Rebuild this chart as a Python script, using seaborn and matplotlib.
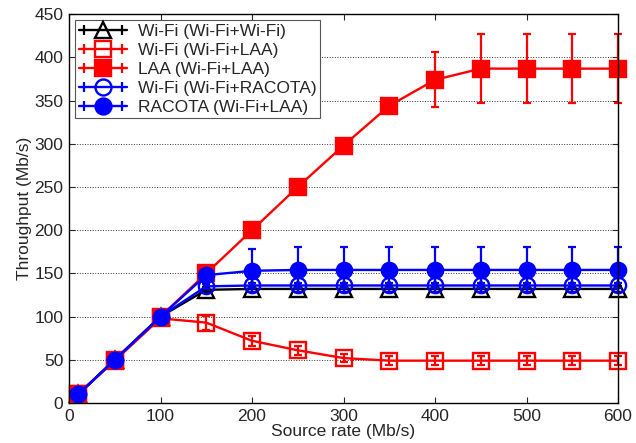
import numpy as np
import pandas as pd
import seaborn as sns
import matplotlib

matplotlib.use('Agg')
import matplotlib.pyplot as plt
from matplotlib.lines import Line2D
from matplotlib.legend_handler import HandlerLine2D

rate = [10, 50, 100, 150, 200, 250, 300, 350, 400, 450, 500, 550, 600]

wifi_wifi = [10, 50, 100, 131, 132, 132, 132, 132, 132, 132, 132, 132, 132]
wifi_wifi_err = [2, 2, 2, 3, 3, 3, 3, 3, 3, 3, 3, 3, 3]

wifi_laa = [10, 49, 98, 93, 72, 61, 52, 49, 49, 49, 49, 49, 49]
wifi_laa_err = [2, 2, 3, 8, 6, 5, 5, 5, 5, 5, 5, 5, 5]

laa = [10, 50, 100, 150, 200, 250, 298, 344, 374, 387, 387, 387, 387]
laa_err = [2, 2, 2, 2, 2, 2, 2, 5, 32, 40, 40, 40, 40]

wifi_racota = [10, 50, 100, 135, 136, 136, 136, 136, 136, 136, 136, 136, 136]
wifi_racota_err = [2, 2, 2, 3, 3, 3, 3, 3, 3, 3, 3, 3, 3]

racota = [10, 50, 100, 148, 153, 154, 154, 154, 154, 154, 154, 154, 154]
racota_err = [0, 0, 0, 0, 25, 26, 26, 26, 26, 26, 26, 26, 26]

series = [
    ("Wi-Fi (Wi-Fi+Wi-Fi)", wifi_wifi, wifi_wifi_err, "black", "^", "none"),
    ("Wi-Fi (Wi-Fi+LAA)", wifi_laa, wifi_laa_err, "red", "s", "none"),
    ("LAA (Wi-Fi+LAA)", laa, laa_err, "red", "s", "red"),
    ("Wi-Fi (Wi-Fi+RACOTA)", wifi_racota, wifi_racota_err, "blue", "o", "none"),
    ("RACOTA (Wi-Fi+LAA)", racota, racota_err, "blue", "o", "blue"),
]

sns.set_style("ticks")
plt.rcParams['font.family'] = ['Liberation Sans', 'DejaVu Sans']
plt.rcParams['xtick.direction'] = 'in'
plt.rcParams['ytick.direction'] = 'in'

fig, ax = plt.subplots(figsize=(6.36, 4.43), dpi=100)
fig.subplots_adjust(left=0.1085, right=0.9717, top=0.968, bottom=0.0903)

handles = []
for name, vals, err, col, mk, fc in series:
    df = pd.DataFrame({"rate": rate, "thr": vals})
    sns.lineplot(data=df, x="rate", y="thr", ax=ax, color=col, marker=mk,
                 markersize=11, markerfacecolor=fc, markeredgecolor=col,
                 markeredgewidth=1.7, linewidth=1.7, legend=False, clip_on=False)
    ax.errorbar(rate, vals, yerr=err, fmt="none", ecolor=col, elinewidth=1.6,
                capsize=3, capthick=1.6, clip_on=False)
    main = Line2D([], [], color=col, marker=mk, markersize=11.5, markerfacecolor=fc,
                  markeredgecolor=col, markeredgewidth=1.7, linewidth=1.7)
    caps = Line2D([], [], color=col, marker="|", markersize=7, markeredgewidth=1.6,
                  linewidth=0)
    handles.append((main, caps, name))

for art in ax.lines + ax.collections:
    art.set_clip_on(False)

hmap = {h[1]: HandlerLine2D(numpoints=2) for h in handles}
leg = ax.legend([(h[0], h[1]) for h in handles], [h[2] for h in handles],
                loc="upper left", fontsize=12.5, handlelength=2.8, labelspacing=0.22,
                borderpad=0.2, handletextpad=0.6, borderaxespad=0.35, fancybox=False,
                framealpha=1, edgecolor="#555555", handler_map=hmap)
leg.get_frame().set_linewidth(0.8)

ax.set_xlim(0, 600)
ax.set_ylim(0, 450)
ax.set_xticks(np.arange(0, 601, 100))
ax.set_yticks(np.arange(0, 451, 50))
ax.yaxis.grid(True, linestyle=":", color="#333333", linewidth=0.7)
ax.tick_params(labelsize=12.5, top=True, right=True, length=4, pad=4)
for sp in ax.spines.values():
    sp.set_visible(True)
    sp.set_linewidth(1.0)
    sp.set_color("black")
ax.set_xlabel("Source rate (Mb/s)", fontsize=12.5, labelpad=0)
ax.set_ylabel("Throughput (Mb/s)", fontsize=12.5, labelpad=2)

fig.savefig("out.png", dpi=100)
